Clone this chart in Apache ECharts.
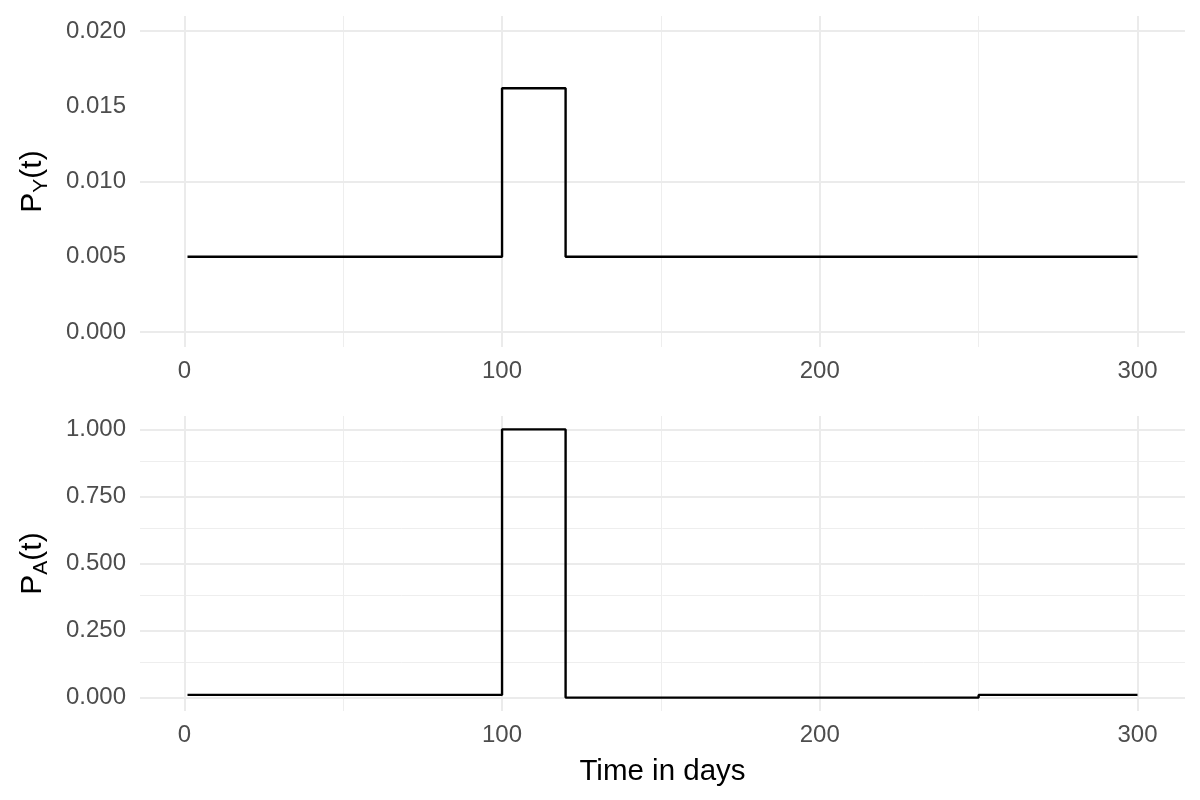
<!DOCTYPE html>
<html>
<head>
<meta charset="utf-8">
<script src="https://cdn.jsdelivr.net/npm/echarts@6/dist/echarts.min.js"></script>
<style>
html,body{margin:0;padding:0;background:#fff;}
#chart{width:1200px;height:800px;}
</style>
</head>
<body>
<div id="chart"></div>
<script>
// ---- data ----
const timeBreaksTop = [1, 100, 120, 300];
const pyValues = [0.005, 0.0162, 0.005, 0.005];
const timeBreaksBottom = [1, 100, 120, 250, 300];
const paValues = [0.01, 1.0, 0.0, 0.01, 0.01];

const xTickLabels = [0, 100, 200, 300];
const xMinorTicks = [50, 150, 250];
const yTopTicks = [0, 0.005, 0.010, 0.015, 0.020];
const yTopMinor = [0.0025, 0.0075, 0.0125, 0.0175];
const yBotTicks = [0, 0.25, 0.5, 0.75, 1.0];
const yBotMinor = [0.125, 0.375, 0.625, 0.875];

const xMin = -13.95, xMax = 314.95;

const FONT = 'Liberation Sans, Arial, sans-serif';
const MAJOR = {color: '#ebebeb', width: 2, type: 'solid'};
const MINOR = {color: '#eeeeee', width: 1, type: 'solid'};

function pairs(xs, ys) { return xs.map((x, i) => [x, ys[i]]); }

function gridSeries(idx, yMajor, yMinor) {
  const data = [];
  xMinorTicks.forEach(v => data.push({xAxis: v, lineStyle: MINOR}));
  yMinor.forEach(v => data.push({yAxis: v, lineStyle: MINOR}));
  xTickLabels.forEach(v => data.push({xAxis: v, lineStyle: MAJOR}));
  yMajor.forEach(v => data.push({yAxis: v, lineStyle: MAJOR}));
  return {
    type: 'line', xAxisIndex: idx, yAxisIndex: idx, data: [], z: 1,
    markLine: {silent: true, symbol: ['none', 'none'], label: {show: false},
      animation: false, data: data}
  };
}

function xAxisCfg(idx, withName) {
  return {
    type: 'value', gridIndex: idx, min: xMin, max: xMax,
    axisLine: {show: false}, axisTick: {show: false}, splitLine: {show: false},
    axisLabel: {customValues: xTickLabels, color: '#4d4d4d', fontSize: 24, fontFamily: FONT, margin: 12},
    name: withName ? 'Time in days' : '', nameLocation: 'middle', nameGap: 46,
    nameTextStyle: {color: '#000', fontSize: 29.5, fontFamily: FONT}
  };
}

function yAxisCfg(idx, ticks, lo, hi, sub) {
  return {
    type: 'value', gridIndex: idx, min: lo, max: hi,
    axisLine: {show: false}, axisTick: {show: false}, splitLine: {show: false},
    axisLabel: {customValues: ticks, color: '#4d4d4d', fontSize: 24, fontFamily: FONT, margin: 14,
      formatter: v => v.toFixed(3)},
    name: '{p|P}{s|' + sub + '}{p|(t)}', nameLocation: 'middle', nameRotate: 90, nameGap: 90,
    nameTextStyle: {
      fontFamily: FONT, color: '#000',
      rich: {
        p: {fontSize: 30, fontFamily: FONT, color: '#000', lineHeight: 34},
        s: {fontSize: 21, fontFamily: FONT, color: '#000', verticalAlign: 'top', lineHeight: 22, padding: [15, 0, 0, 0]}
      }
    }
  };
}

const chart = echarts.init(document.getElementById('chart'), null, {renderer: 'canvas'});
chart.setOption({
  animation: false,
  backgroundColor: '#ffffff',
  grid: [
    {left: 140, right: 15, top: 16, height: 331},
    {left: 140, right: 15, top: 416, height: 295}
  ],
  xAxis: [xAxisCfg(0, false), xAxisCfg(1, true)],
  yAxis: [
    yAxisCfg(0, yTopTicks, -0.001, 0.021, 'Y'),
    yAxisCfg(1, yBotTicks, -0.05, 1.05, 'A')
  ],
  series: [
    gridSeries(0, yTopTicks, yTopMinor),
    gridSeries(1, yBotTicks, yBotMinor),
    {type: 'line', xAxisIndex: 0, yAxisIndex: 0, step: 'end', showSymbol: false, z: 5,
      lineStyle: {color: '#000', width: 2.4}, data: pairs(timeBreaksTop, pyValues)},
    {type: 'line', xAxisIndex: 1, yAxisIndex: 1, step: 'end', showSymbol: false, z: 5,
      lineStyle: {color: '#000', width: 2.4}, data: pairs(timeBreaksBottom, paValues)}
  ]
});
</script>
</body>
</html>
